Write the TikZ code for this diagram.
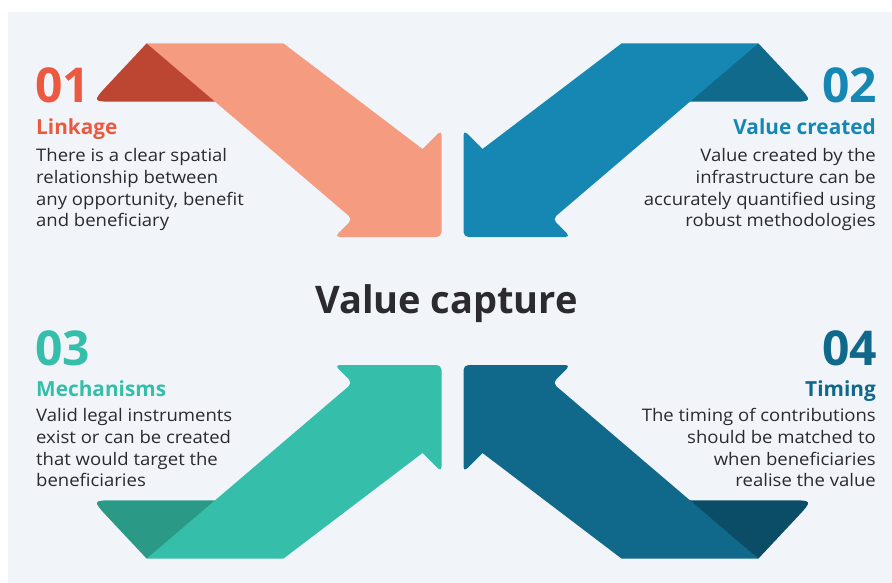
\documentclass[tikz,border=0pt]{standalone}
\usepackage{fontspec}
\setmainfont{Open Sans}
\newfontfamily\blurbfont{Open Sans}[FakeStretch=1.07]
\usetikzlibrary{positioning}

\definecolor{panelbg}{HTML}{F1F5F9}
\definecolor{salmon}{HTML}{F59B7F}
\definecolor{salmondark}{HTML}{BC4631}
\definecolor{salmontext}{HTML}{EB5A40}
\definecolor{oceanblue}{HTML}{1687B3}
\definecolor{oceandark}{HTML}{106A8B}
\definecolor{tealband}{HTML}{35BFAA}
\definecolor{tealdark}{HTML}{2A9A86}
\definecolor{navyband}{HTML}{10698B}
\definecolor{navydark}{HTML}{0B4D66}
\definecolor{inkgray}{HTML}{2B2A2E}

% one folded arrow, drawn for the top-left corner; the others are mirrored
\newcommand{\bentarrow}[2]{%
  \fill[#2] (-305.8,-257.7) -- (-344.1,-216.8) .. controls (-360.5,-199.3) .. (-336.5,-199.3)
    -- (-230,-199.3) -- cycle;
  \fill[#1] (-305.8,-257.7) -- (-169.2,-257.7) -- (-30,-152)
    [rounded corners=5pt] -- (-11,-171) -- (-11,-64) -- (-118,-64) -- (-100,-82) [sharp corners] -- cycle;
}

\begin{document}
\begin{tikzpicture}[
      x=1pt, y=-1pt,
      numtext/.style={font=\fontsize{48}{48}\selectfont\bfseries, inner sep=0pt},
      headtext/.style={font=\fontsize{20.8}{24}\selectfont\bfseries, inner sep=0pt},
      blurb/.style={font=\blurbfont\fontsize{17.3}{21.7}\selectfont, text=inkgray, inner sep=0pt},
      titletext/.style={font=\fontsize{38}{40}\selectfont\bfseries, text=inkgray, inner sep=0pt}
    ]

      % page and light panel
      \useasboundingbox (0,0) rectangle (892,583);
      \fill[panelbg] (8,12) rectangle (892,583);

      % the four arrows around the centre
      \begin{scope}[shift={(452.5,301)}]
        \bentarrow{salmon}{salmondark}
      \end{scope}
      \begin{scope}[shift={(452.5,301)}, xscale=-1]
        \bentarrow{oceanblue}{oceandark}
      \end{scope}
      \begin{scope}[shift={(452.5,301)}, yscale=-1]
        \bentarrow{tealband}{tealdark}
      \end{scope}
      \begin{scope}[shift={(452.5,301)}, xscale=-1, yscale=-1]
        \bentarrow{navyband}{navydark}
      \end{scope}

      % centre title
      \node[titletext, anchor=base] (title) at (446.5,313.3) {Value capture};

      % 01 Linkage (body anchored on its last line)
      \node[numtext, text=salmontext, anchor=base west] (num01) at (35,103) {01};
      \node[headtext, text=salmontext, anchor=base west] (head01) at (36,135) {Linkage};
      \node[blurb, align=left, anchor=base west] (body01) at (36,226.8)
        {There is a clear spatial\\relationship between\\any opportunity, benefit\\and beneficiary};

      % 02 Value created
      \node[numtext, text=oceanblue, anchor=base east] (num02) at (877,103) {02};
      \node[headtext, text=oceanblue, anchor=base east] (head02) at (876,135) {Value created};
      \node[blurb, align=right, anchor=base east] (body02) at (876,226.8)
        {Value created by the\\infrastructure can be\\accurately quantified using\\robust methodologies};

      % 03 Mechanisms
      \node[numtext, text=tealband, anchor=base west] (num03) at (35,365) {03};
      \node[headtext, text=tealband, anchor=base west] (head03) at (36,396.7) {Mechanisms};
      \node[blurb, align=left, anchor=base west] (body03) at (36,486.8)
        {Valid legal instruments\\exist or can be created\\that would target the\\beneficiaries};

      % 04 Timing
      \node[numtext, text=navyband, anchor=base east] (num04) at (877,365) {04};
      \node[headtext, text=navyband, anchor=base east] (head04) at (876,396.7) {Timing};
      \node[blurb, align=right, anchor=base east] (body04) at (876,486.8)
        {The timing of contributions\\should be matched to\\when beneficiaries\\realise the value};

    \end{tikzpicture}
\end{document}
